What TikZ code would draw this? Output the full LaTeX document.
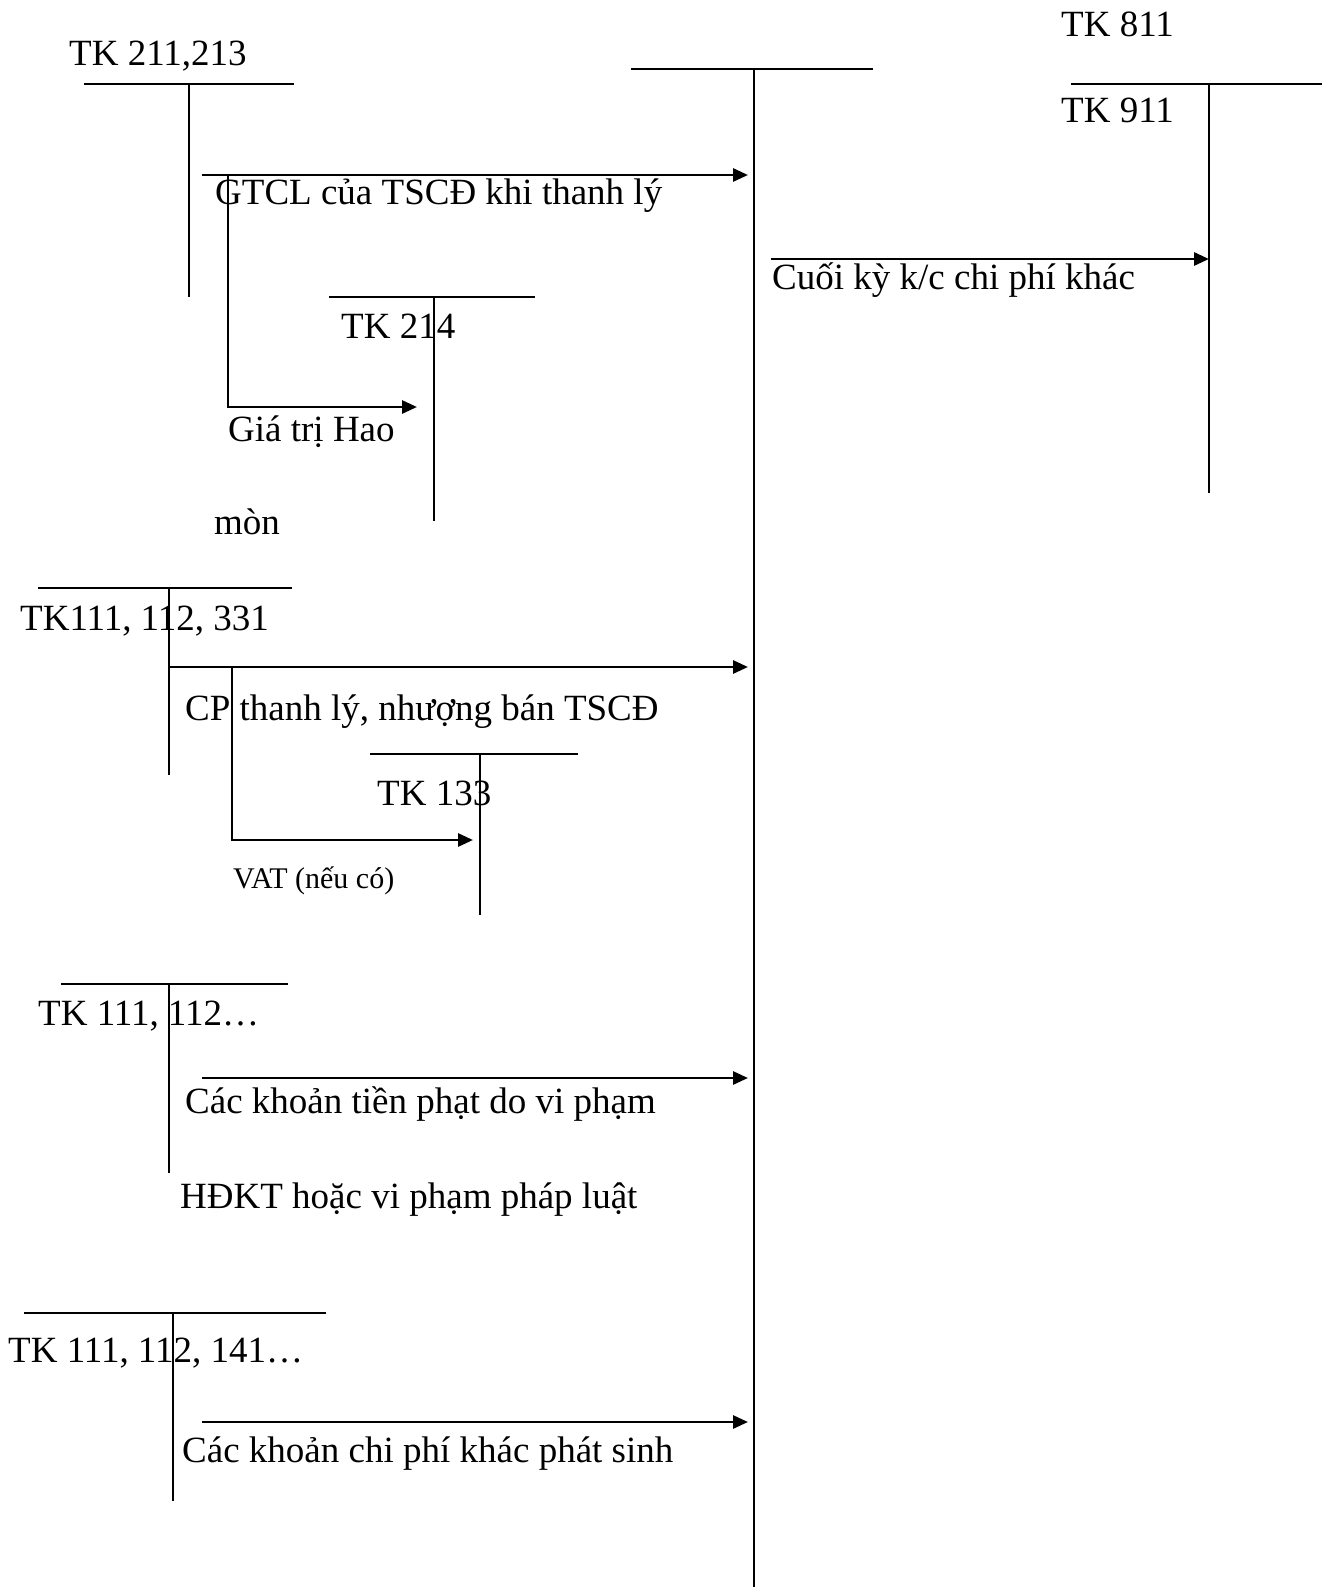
\documentclass[tikz,border=0pt]{standalone}
\usepackage{fontspec}
\setmainfont{Liberation Serif}
\usetikzlibrary{arrows.meta}
\begin{document}
\begin{tikzpicture}[x=1pt,y=-1pt,
  tline/.style={line width=2.6pt},
  flow/.style={line width=2.8pt,-{Triangle[length=15pt,width=13pt]}},
  lbl/.style={anchor=base west,inner sep=0pt,font=\fontsize{37}{44}\selectfont},
  smalllbl/.style={anchor=base west,inner sep=0pt,font=\fontsize{30}{36}\selectfont}]
\useasboundingbox (0,0) rectangle (1329,1587);
% ---------- TK 211,213 ----------
\coordinate (a1l) at (84,84); \coordinate (a1r) at (294,84);
\coordinate (a1t) at (189,84); \coordinate (a1b) at (189,297);
\draw[tline] (a1l) -- (a1r); \draw[tline] (a1t) -- (a1b);
\node[lbl] (a1n) at (69,66) {TK 211,213};
% ---------- TK 811 (central) ----------
\coordinate (cl) at (631,69); \coordinate (cr) at (873,69);
\coordinate (ct) at (754,69); \coordinate (cb) at (754,1587);
\draw[tline] (cl) -- (cr); \draw[tline] (ct) -- (cb);
\node[lbl] (cn) at (1061,37) {TK 811};
% ---------- TK 911 ----------
\coordinate (dl) at (1071,84); \coordinate (dr) at (1322,84);
\coordinate (dt) at (1209,84); \coordinate (db) at (1209,493);
\draw[tline] (dl) -- (dr); \draw[tline] (dt) -- (db);
\node[lbl] (dn) at (1061,122) {TK 911};
% ---------- GTCL ----------
\coordinate (g1) at (202,175); \coordinate (g2) at (748,175);
\draw[flow] (g1) -- (g2);
\node[lbl] (gn) at (215,204) {GTCL của TSCĐ khi thanh lý};
\coordinate (h1) at (228,175); \coordinate (h2) at (228,407); \coordinate (h3) at (417,407);
\draw[flow] (h1) -- (h2) -- (h3);
% ---------- TK 214 ----------
\coordinate (el) at (329,297); \coordinate (er) at (535,297);
\coordinate (et) at (434,297); \coordinate (eb) at (434,521);
\draw[tline] (el) -- (er); \draw[tline] (et) -- (eb);
\node[lbl] (en) at (341,338) {TK 214};
\node[lbl] (hn1) at (228,441) {Giá trị Hao};
\node[lbl] (hn2) at (214,534) {mòn};
% ---------- Cuoi ky ----------
\coordinate (k1) at (771,259); \coordinate (k2) at (1209,259);
\draw[flow] (k1) -- (k2);
\node[lbl] (kn) at (772,289) {Cuối kỳ k/c chi phí khác};
% ---------- TK111, 112, 331 ----------
\coordinate (fl) at (38,588); \coordinate (fr) at (292,588);
\coordinate (ft) at (169,588); \coordinate (fb) at (169,775);
\draw[tline] (fl) -- (fr); \draw[tline] (ft) -- (fb);
\node[lbl] (fn) at (20,630) {TK111, 112, 331};
\coordinate (p1) at (169,667); \coordinate (p2) at (748,667);
\draw[flow] (p1) -- (p2);
\node[lbl] (pn) at (185,720) {CP thanh lý, nhượng bán TSCĐ};
\coordinate (v1) at (232,667); \coordinate (v2) at (232,840); \coordinate (v3) at (473,840);
\draw[flow] (v1) -- (v2) -- (v3);
\node[smalllbl] (vn) at (233,888) {VAT (nếu có)};
% ---------- TK 133 ----------
\coordinate (il) at (370,754); \coordinate (ir) at (578,754);
\coordinate (it) at (480,754); \coordinate (ib) at (480,915);
\draw[tline] (il) -- (ir); \draw[tline] (it) -- (ib);
\node[lbl] (in) at (377,805) {TK 133};
% ---------- TK 111, 112... ----------
\coordinate (jl) at (61,984); \coordinate (jr) at (288,984);
\coordinate (jt) at (169,984); \coordinate (jb) at (169,1173);
\draw[tline] (jl) -- (jr); \draw[tline] (jt) -- (jb);
\node[lbl] (jn) at (38,1025) {TK 111, 112…};
\coordinate (q1) at (202,1078); \coordinate (q2) at (748,1078);
\draw[flow] (q1) -- (q2);
\node[lbl] (qn1) at (185,1113) {Các khoản tiền phạt do vi phạm};
\node[lbl] (qn2) at (180,1208) {HĐKT hoặc vi phạm pháp luật};
% ---------- TK 111, 112, 141... ----------
\coordinate (ml) at (24,1313); \coordinate (mr) at (326,1313);
\coordinate (mt) at (173,1313); \coordinate (mb) at (173,1501);
\draw[tline] (ml) -- (mr); \draw[tline] (mt) -- (mb);
\node[lbl] (mn) at (8,1362) {TK 111, 112, 141…};
\coordinate (r1) at (202,1422); \coordinate (r2) at (748,1422);
\draw[flow] (r1) -- (r2);
\node[lbl] (rn) at (182,1462) {Các khoản chi phí khác phát sinh};
\end{tikzpicture}
\end{document}
